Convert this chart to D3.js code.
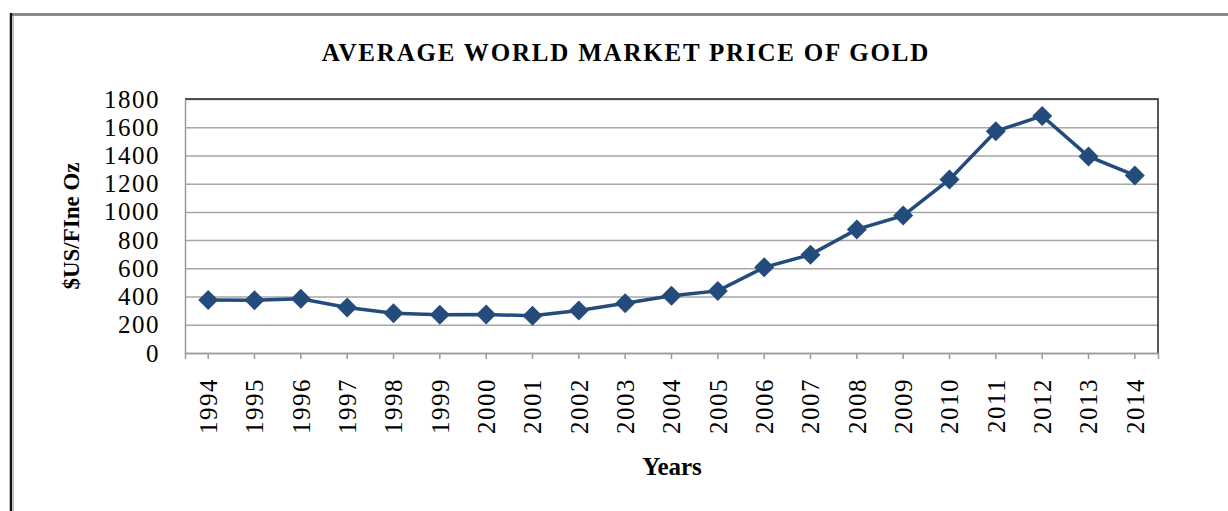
<!DOCTYPE html>
<html>
<head>
<meta charset="utf-8">
<script src="https://cdn.jsdelivr.net/npm/d3@7"></script>
<style>
  body { margin: 0; background: #fff; }
  text { font-family: "Liberation Serif", "DejaVu Serif", serif; fill: #000; }
</style>
</head>
<body>
<div id="chart"></div>
<script>
const width = 1228;
const height = 511;
const margin = { top: 99, right: 70, bottom: 158, left: 185 };

const years = ['1994', '1995', '1996', '1997', '1998', '1999', '2000', '2001', '2002', '2003', '2004',
  '2005', '2006', '2007', '2008', '2009', '2010', '2011', '2012', '2013', '2014'];
const prices = [376, 374, 384, 322, 282, 271, 273, 264, 301, 353, 405,
  440, 607, 697, 876, 974, 1230, 1572, 1680, 1393, 1258];
const yTicks = [0, 200, 400, 600, 800, 1000, 1200, 1400, 1600, 1800];

const svg = d3.select('#chart')
  .append('svg')
  .attr('width', width)
  .attr('height', height);

// outer frame (top + left edges only)
svg.append('line')
  .attr('x1', 10).attr('x2', width).attr('y1', 14.5).attr('y2', 14.5)
  .attr('stroke', '#8a8a8a').attr('stroke-width', 3);
svg.append('line')
  .attr('x1', 11).attr('x2', 11).attr('y1', 13).attr('y2', height)
  .attr('stroke', '#111').attr('stroke-width', 2.5);
svg.append('line')
  .attr('x1', 13.5).attr('x2', 13.5).attr('y1', 16).attr('y2', height)
  .attr('stroke', '#bbb').attr('stroke-width', 1);

const x = d3.scaleBand()
  .domain(years)
  .range([margin.left, width - margin.right]);

const y = d3.scaleLinear()
  .domain([0, 1800])
  .range([height - margin.bottom, margin.top]);

// gridlines
svg.append('g')
  .attr('transform', `translate(${margin.left}, 0)`)
  .call(d3.axisLeft(y).tickValues(yTicks).tickSize(-(width - margin.left - margin.right)).tickFormat(''))
  .call(g => g.select('.domain').remove())
  .call(g => g.selectAll('line').attr('stroke', '#a6a6a6').attr('stroke-width', 1.5));

// plot border: top + right dark
svg.append('path')
  .attr('d', `M${margin.left},${margin.top}H${width - margin.right}V${height - margin.bottom}`)
  .attr('fill', 'none')
  .attr('stroke', '#222')
  .attr('stroke-width', 1.5);

// y axis
svg.append('g')
  .attr('transform', `translate(${margin.left}, 0)`)
  .call(d3.axisLeft(y).tickValues(yTicks).tickFormat(d3.format('d')).tickSize(0).tickPadding(25))
  .call(g => g.select('.domain').attr('stroke', '#9a9a9a').attr('stroke-width', 1.5))
  .call(g => g.selectAll('text')
    .attr('font-size', '25px')
    .attr('letter-spacing', '1.5px')
    .attr('font-family', '"Liberation Serif", serif'));

// x axis
svg.append('g')
  .attr('transform', `translate(0, ${height - margin.bottom})`)
  .call(d3.axisBottom(x).tickSizeOuter(0).tickSize(6).tickPadding(8))
  .call(g => g.select('.domain').attr('stroke', '#9a9a9a').attr('stroke-width', 1.5))
  .call(g => g.selectAll('line').attr('stroke', '#9a9a9a').attr('stroke-width', 1.5))
  .call(g => g.selectAll('text')
    .attr('font-size', '25px')
    .attr('letter-spacing', '1.5px')
    .attr('font-family', '"Liberation Serif", serif')
    .attr('text-anchor', 'end')
    .attr('transform', 'rotate(-90)')
    .attr('x', -25)
    .attr('y', 0)
    .attr('dy', '0.35em'));

const cx = d => x(d) + x.bandwidth() / 2;

// line
svg.append('path')
  .datum(years.map((yr, i) => [yr, prices[i]]))
  .attr('fill', 'none')
  .attr('stroke', '#234b7c')
  .attr('stroke-width', 3.5)
  .attr('d', d3.line().x(d => cx(d[0])).y(d => y(d[1])));

// diamond markers
svg.append('g')
  .selectAll('path')
  .data(years)
  .join('path')
    .attr('transform', (d, i) => `translate(${cx(d)}, ${y(prices[i])}) rotate(45)`)
    .attr('d', d3.symbol().type(d3.symbolSquare).size(200))
    .attr('fill', '#234b7c');

// title
svg.append('text')
  .attr('x', 626)
  .attr('y', 61)
  .attr('text-anchor', 'middle')
  .attr('font-size', '25px')
  .attr('font-weight', 'bold')
  .attr('letter-spacing', '1.8px')
  .text('AVERAGE WORLD MARKET PRICE OF GOLD');

// axis titles
svg.append('text')
  .attr('transform', 'translate(79, 226) rotate(-90)')
  .attr('text-anchor', 'middle')
  .attr('font-size', '23px')
  .attr('font-weight', 'bold')
  .text('$US/FIne Oz');

svg.append('text')
  .attr('x', 672)
  .attr('y', 475)
  .attr('text-anchor', 'middle')
  .attr('font-size', '25px')
  .attr('font-weight', 'bold')
  .text('Years');
</script>
</body>
</html>
